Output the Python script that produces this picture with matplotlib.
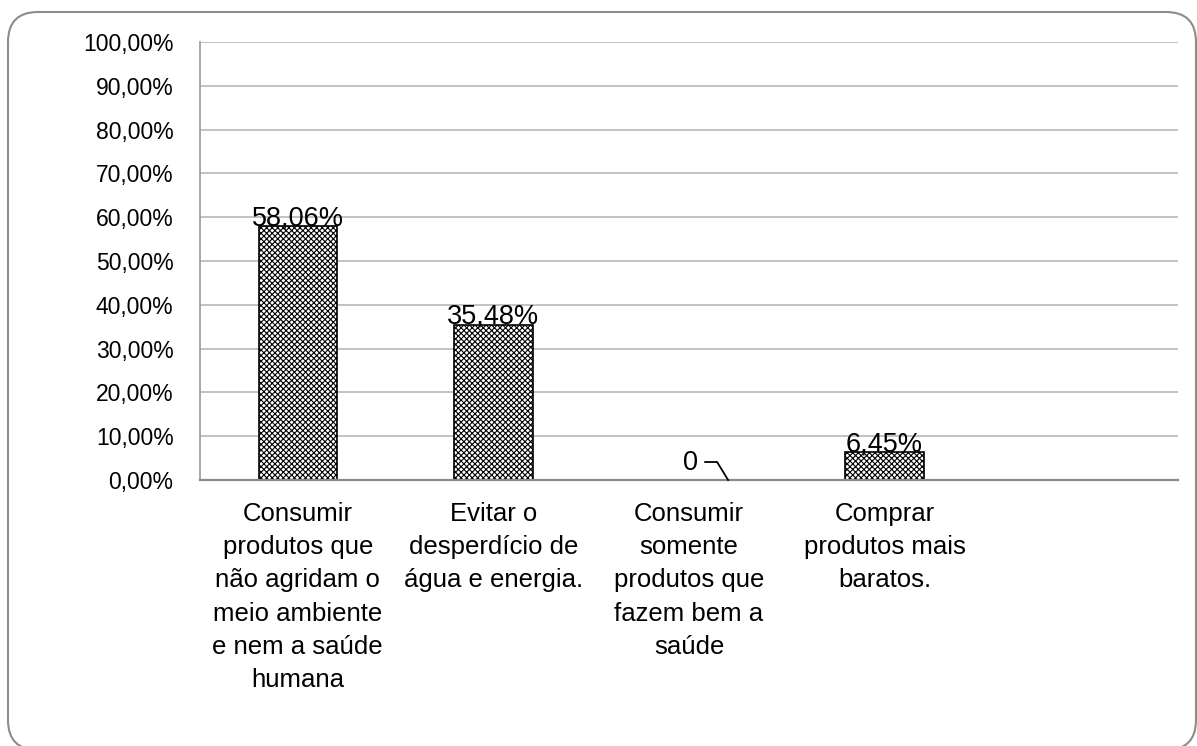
import matplotlib
matplotlib.use("Agg")
import matplotlib.pyplot as plt
from matplotlib.patches import FancyBboxPatch
from matplotlib.transforms import IdentityTransform
from matplotlib.lines import Line2D

plt.rcParams['font.family'] = ['Liberation Sans', 'DejaVu Sans']
plt.rcParams['hatch.linewidth'] = 0.8

categories = [
    "Consumir\nprodutos que\nnão agridam o\nmeio ambiente\ne nem a saúde\nhumana",
    "Evitar o\ndesperdício de\nágua e energia.",
    "Consumir\nsomente\nprodutos que\nfazem bem a\nsaúde",
    "Comprar\nprodutos mais\nbaratos.",
    "",
]
values = [58.06, 35.48, 0.0, 6.45, None]
value_labels = ["58,06%", "35,48%", "0", "6,45%", ""]
yticks = [0, 10, 20, 30, 40, 50, 60, 70, 80, 90, 100]
ytick_labels = ["0,00%", "10,00%", "20,00%", "30,00%", "40,00%", "50,00%",
                "60,00%", "70,00%", "80,00%", "90,00%", "100,00%"]

W, H = 1197, 746
fig = plt.figure(figsize=(W / 100, H / 100), dpi=100)
ax = fig.add_axes([200 / W, (H - 480) / H, (1178 - 200) / W, (480 - 42) / H])

# outer rounded frame
frame = FancyBboxPatch((8, -4), 1196 - 8, H - 12 + 4,
                       boxstyle="round,pad=0,rounding_size=30",
                       transform=IdentityTransform(), fill=False,
                       edgecolor="#8c8c8c", linewidth=1.5, figure=fig)
fig.patches.append(frame)

x = list(range(len(categories)))
bw = 0.4
for i, v in enumerate(values):
    if v is None or v == 0:
        continue
    ax.bar(i, v, width=bw, facecolor="white", edgecolor="black",
           hatch="xxxxxx", linewidth=1.2, zorder=3)

ax.set_xlim(-0.5, len(categories) - 0.5)
ax.set_ylim(0, 100)
ax.set_yticks(yticks)
ax.set_yticklabels(ytick_labels, fontsize=16.5)
ax.set_xticks(x)
ax.set_xticklabels(categories, fontsize=18.5, linespacing=1.48, va="top")
ax.tick_params(axis="y", length=0, pad=19)
ax.tick_params(axis="x", length=0, pad=16)
ax.grid(axis="y", color="#bdbdbd", linewidth=1.3, zorder=0)
ax.set_axisbelow(True)
for s in ["top", "right"]:
    ax.spines[s].set_visible(False)
ax.spines["left"].set_color("#a0a0a0")
ax.spines["left"].set_linewidth(1.3)
ax.spines["bottom"].set_color("#8a8a8a")
ax.spines["bottom"].set_linewidth(1.6)
ax.spines["bottom"].set_zorder(4)

# data labels
for i, v in enumerate(values):
    if v is None:
        continue
    if v > 0:
        ax.annotate(value_labels[i], (i, v), xytext=(0, 0.5),
                    textcoords="offset points", ha="center", va="baseline",
                    fontsize=19.5)
    else:
        # label with leader line
        ax.annotate(value_labels[i], (i + bw / 2, v), xytext=(-38 * 0.72, 17 * 0.72),
                    textcoords="offset points", ha="center", va="center",
                    fontsize=19.5)
        base = ax.transData.transform((i + bw / 2, v))
        offs = [(-23, 18), (-11, 18), (0, 0)]
        disp = [(base[0] + dx, base[1] + dy) for dx, dy in offs]
        line = Line2D([p[0] for p in disp], [p[1] for p in disp],
                      transform=IdentityTransform(), color="black",
                      linewidth=1.3, figure=fig)
        fig.lines.append(line)

fig.savefig("out.png", dpi=100)
